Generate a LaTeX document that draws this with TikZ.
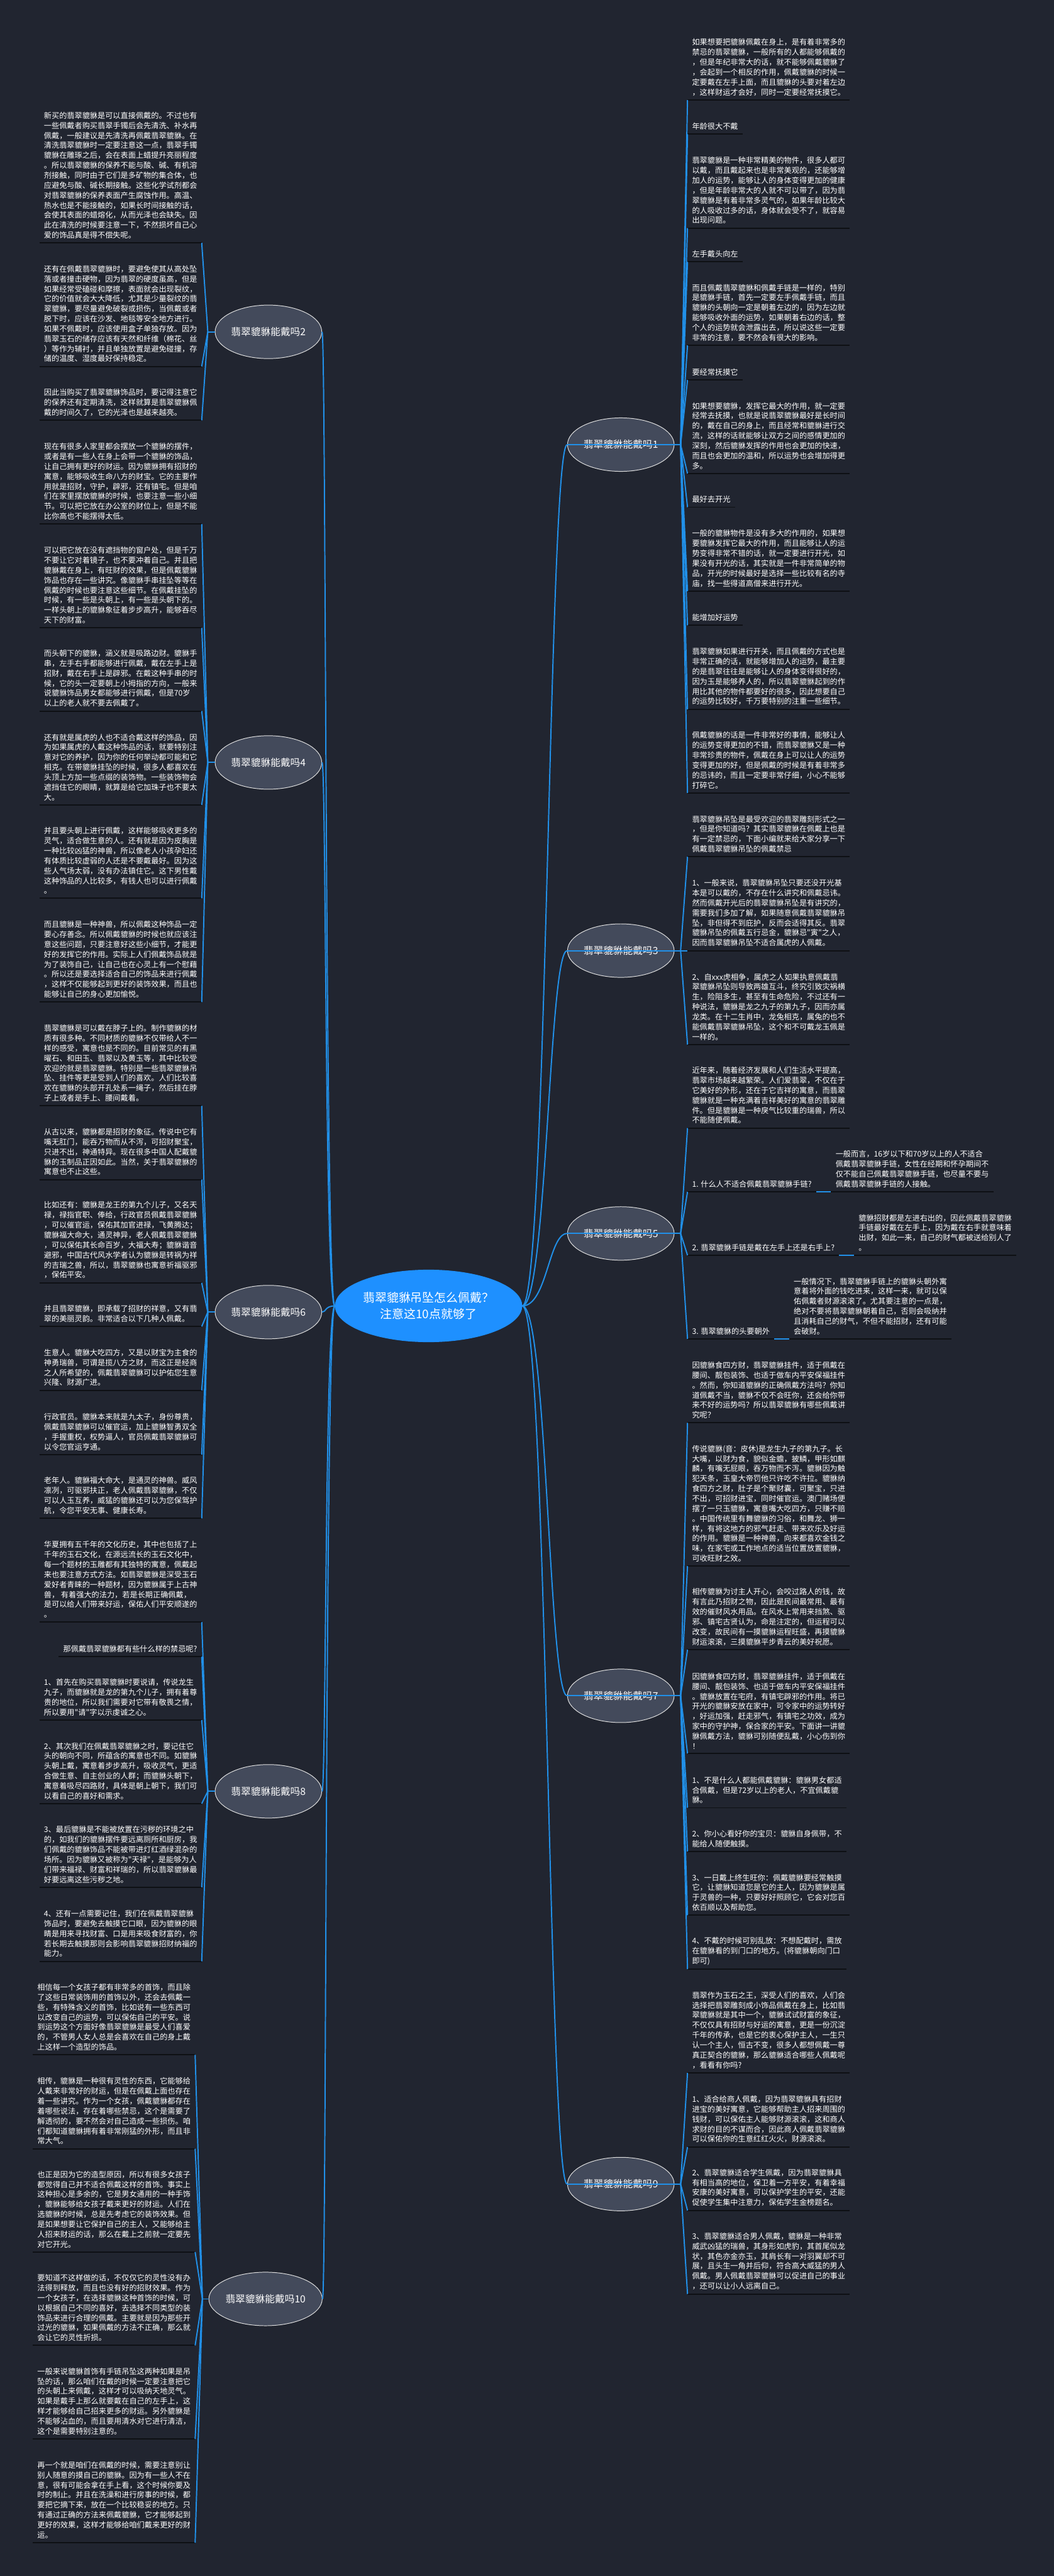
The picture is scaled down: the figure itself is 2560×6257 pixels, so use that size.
\documentclass[tikz,border=0pt]{standalone}
\usepackage{fontspec}
\usetikzlibrary{shapes.geometric,calc}
\newfontfamily\cjk{Noto Sans CJK SC}
\definecolor{bg}{RGB}{33,37,48}
\definecolor{linkblue}{RGB}{33,144,232}
\definecolor{nodegray}{RGB}{67,74,91}
\definecolor{centerblue}{RGB}{30,144,255}
\definecolor{ulc}{RGB}{14,16,20}
\newcommand\bodyfont{\cjk\fontsize{18.6pt}{24.2pt}\selectfont}
\begin{document}
\begin{tikzpicture}[x=1pt,y=-1pt,
 conn/.style={draw=linkblue,line width=3pt},
 uline/.style={draw=ulc,line width=3pt},
 txt/.style={align=left,font=\bodyfont,text=white,inner xsep=11pt,inner ysep=10pt,
   append after command={(\tikzlastnode.south west) edge[uline] (\tikzlastnode.south east)}},
 lbox/.style={txt,anchor=south east},
 rbox/.style={txt,anchor=south west},
 branch/.style={ellipse,fill=nodegray,draw=white!88!black,line width=1.5pt,minimum width=259pt,minimum height=130pt,inner sep=0pt,text=white,font=\cjk\fontsize{24pt}{28pt}\selectfont},
 hub/.style={ellipse,fill=centerblue,minimum width=455pt,minimum height=176pt,inner sep=0pt,align=center,text=white,font=\cjk\fontsize{29pt}{40pt}\selectfont}
]
\fill[bg] (0,0) rectangle (2560,6257);

% center
\node[hub] (c) at (1041,3172) {翡翠貔貅吊坠怎么佩戴？\\注意这10点就够了};

% branches
\node[branch] (n2) at (652,806) {翡翠貔貅能戴吗2};
\node[branch] (n4) at (652,1852) {翡翠貔貅能戴吗4};
\node[branch] (n6) at (652,3187) {翡翠貔貅能戴吗6};
\node[branch] (n8) at (652,4351) {翡翠貔貅能戴吗8};
\node[branch,minimum width=275pt] (n10) at (645,5584) {翡翠貔貅能戴吗10};
\node[branch] (n1) at (1508,1080) {翡翠貔貅能戴吗1};
\node[branch] (n3) at (1508,2309) {翡翠貔貅能戴吗3};
\node[branch] (n5) at (1508,2996) {翡翠貔貅能戴吗5};
\node[branch] (n7) at (1508,4119) {翡翠貔貅能戴吗7};
\node[branch] (n9) at (1508,5305) {翡翠貔貅能戴吗9};

% ---------- left: node 2
\node[lbox] (l2a) at (490,590) {新买的翡翠貔貅是可以直接佩戴的。不过也有\\一些佩戴者购买翡翠手镯后会先清洗、补水再\\佩戴，一般建议是先清洗再佩戴翡翠貔貅。在\\清洗翡翠貔貅时一定要注意这一点，翡翠手镯\\貔貅在雕琢之后，会在表面上蜡提升亮丽程度\\。所以翡翠貔貅的保养不能与酸、碱、有机溶\\剂接触，同时由于它们是多矿物的集合体，也\\应避免与酸、碱长期接触。这些化学试剂都会\\对翡翠貔貅的保养表面产生腐蚀作用。高温、\\热水也是不能接触的，如果长时间接触的话，\\会使其表面的蜡熔化，从而光泽也会缺失。因\\此在清洗的时候要注意一下，不然损坏自己心\\爱的饰品真是得不偿失呢。};
\node[lbox] (l2b) at (490,890) {还有在佩戴翡翠貔貅时，要避免使其从高处坠\\落或者撞击硬物，因为翡翠的硬度虽高，但是\\如果经常受磕碰和摩擦，表面就会出现裂纹，\\它的价值就会大大降低，尤其是少量裂纹的翡\\翠貔貅，要尽量避免破裂或损伤，当佩戴或者\\脱下时，应该在沙发、地毯等安全地方进行。\\如果不佩戴时，应该使用盒子单独存放。因为\\翡翠玉石的储存应该有天然和纤维（棉花、丝\\）等作为辅衬，并且单独放置是避免碰撞，存\\储的温度、湿度最好保持稳定。};
\node[lbox] (l2c) at (490,1021) {因此当购买了翡翠貔貅饰品时，要记得注意它\\的保养还有定期清洗，这样就算是翡翠貔貅佩\\戴的时间久了，它的光泽也是越来越亮。};

% ---------- left: node 4
\node[lbox] (l4a) at (490,1273) {现在有很多人家里都会摆放一个貔貅的摆件，\\或者是有一些人在身上会带一个貔貅的饰品，\\让自己拥有更好的财运。因为貔貅拥有招财的\\寓意，能够吸收生命八方的财宝。它的主要作\\用就是招财，守护，辟邪，还有镇宅。但是咱\\们在家里摆放貔貅的时候，也要注意一些小细\\节。可以把它放在办公室的财位上，但是不能\\比你高也不能摆得太低。};
\node[lbox] (l4b) at (490,1525) {可以把它放在没有遮挡物的窗户处，但是千万\\不要让它对着镜子，也不要冲着自己。并且把\\貔貅戴在身上，有旺财的效果，但是佩戴貔貅\\饰品也存在一些讲究。像貔貅手串挂坠等等在\\佩戴的时候也要注意这些细节。在佩戴挂坠的\\时候，有一些是头朝上，有一些是头朝下的。\\一样头朝上的貔貅象征着步步高升，能够吞尽\\天下的财富。};
\node[lbox] (l4c) at (490,1727) {而头朝下的貔貅，涵义就是吸路边财。貔貅手\\串，左手右手都能够进行佩戴，戴在左手上是\\招财，戴在右手上是辟邪。在戴这种手串的时\\候，它的头一定要朝上小拇指的方向，一般来\\说貔貅饰品男女都能够进行佩戴，但是70岁\\以上的老人就不要去佩戴了。};
\node[lbox] (l4d) at (490,1955) {还有就是属虎的人也不适合戴这样的饰品，因\\为如果属虎的人戴这种饰品的话，就要特别注\\意对它的养护，因为你的任何举动都可能和它\\相克。在带貔貅挂坠的时候，很多人都喜欢在\\头顶上方加一些点缀的装饰物。一些装饰物会\\遮挡住它的眼睛，就算是给它加珠子也不要太\\大。};
\node[lbox] (l4e) at (490,2182) {并且要头朝上进行佩戴，这样能够吸收更多的\\灵气，适合做生意的人。还有就是因为皮胸是\\一种比较凶猛的神兽，所以像老人小孩孕妇还\\有体质比较虚弱的人还是不要戴最好。因为这\\些人气场太弱，没有办法镇住它。这下男性戴\\这种饰品的人比较多，有钱人也可以进行佩戴\\。};
\node[lbox] (l4f) at (490,2434) {而且貔貅是一种神兽，所以佩戴这种饰品一定\\要心存善念。所以佩戴貔貅的时候也就应该注\\意这些问题，只要注意好这些小细节，才能更\\好的发挥它的作用。实际上人们佩戴饰品就是\\为了装饰自己，让自己也在心灵上有一个慰藉\\。所以还是要选择适合自己的饰品来进行佩戴\\，这样不仅能够起到更好的装饰效果，而且也\\能够让自己的身心更加愉悦。};

% ---------- left: node 6
\node[lbox] (l6a) at (490,2686) {翡翠貔貅是可以戴在脖子上的。制作貔貅的材\\质有很多种。不同材质的貔貅不仅带给人不一\\样的感受，寓意也是不同的。目前常见的有黑\\曜石、和田玉、翡翠以及黄玉等，其中比较受\\欢迎的就是翡翠貔貅。特别是一些翡翠貔貅吊\\坠、挂件等更是受到人们的喜欢。人们比较喜\\欢在貔貅的头部开孔处系一绳子，然后挂在脖\\子上或者是手上、腰间戴着。};
\node[lbox] (l6b) at (490,2865) {从古以来，貔貅都是招财的象征。传说中它有\\嘴无肛门，能吞万物而从不泻，可招财聚宝，\\只进不出，神通特异。现在很多中国人配戴貔\\貅的玉制品正因如此。当然，关于翡翠貔貅的\\寓意也不止这些。};
\node[lbox] (l6c) at (490,3116) {比如还有：貔貅是龙王的第九个儿子，又名天\\禄，禄指官职、俸给，行政官员佩戴翡翠貔貅\\，可以催官运，保佑其加官进禄，飞黄腾达；\\貔貅福大命大，通灵神异，老人佩戴翡翠貔貅\\，可以保佑其长命百岁，大福大寿；貔貅谐音\\避邪，中国古代风水学者认为貔貅是转祸为祥\\的吉瑞之兽，所以，翡翠貔貅也寓意祈福驱邪\\，保佑平安。};
\node[lbox] (l6d) at (490,3222) {并且翡翠貔貅，即承载了招财的祥意，又有翡\\翠的美丽灵韵。非常适合以下几种人佩戴。};
\node[lbox] (l6e) at (490,3377) {生意人。貔貅大吃四方，又是以财宝为主食的\\神勇瑞兽，可谓是揽八方之财，而这正是经商\\之人所希望的，佩戴翡翠貔貅可以护佑您生意\\兴隆、财源广进。};
\node[lbox] (l6f) at (490,3533) {行政官员。貔貅本来就是九太子，身份尊贵，\\佩戴翡翠貔貅可以催官运，加上貔貅智勇双全\\，手握重权，权势逼人，官员佩戴翡翠貔貅可\\以令您官运亨通。};
\node[lbox] (l6g) at (490,3688) {老年人。貔貅福大命大，是通灵的神兽。威风\\凛冽，可驱邪扶正，老人佩戴翡翠貔貅，不仅\\可以人玉互养，威猛的貔貅还可以为您保驾护\\航，令您平安无事、健康长寿。};

% ---------- left: node 8
\node[lbox] (l8a) at (490,3940) {华夏拥有五千年的文化历史，其中也包括了上\\千年的玉石文化，在源远流长的玉石文化中，\\每一个题材的玉雕都有其独特的寓意，佩戴起\\来也要注意方式方法。如翡翠貔貅是深受玉石\\爱好者青睐的一种题材，因为貔貅属于上古神\\兽， 有着强大的法力，若是长期正确佩戴，\\是可以给人们带来好运，保佑人们平安顺遂的\\。};
\node[lbox] (l8b) at (490,4024) {那佩戴翡翠貔貅都有些什么样的禁忌呢?};
\node[lbox] (l8c) at (490,4178) {1、首先在购买翡翠貔貅时要说请，传说龙生\\九子，而貔貅就是龙的第九个儿子，拥有着尊\\贵的地位，所以我们需要对它带有敬畏之情，\\所以要用"请"字以示虔诚之心。};
\node[lbox] (l8d) at (490,4381) {2、其次我们在佩戴翡翠貔貅之时，要记住它\\头的朝向不同，所蕴含的寓意也不同。如貔貅\\头朝上戴，寓意着步步高升，吸收灵气，更适\\合做生意、自主创业的人群；而貔貅头朝下，\\寓意着吸尽四路财，具体是朝上朝下，我们可\\以看自己的喜好和需求。};
\node[lbox] (l8e) at (490,4584) {3、最后貔貅是不能被放置在污秽的环境之中\\的，如我们的貔貅摆件要远离厕所和厨房，我\\们佩戴的貔貅饰品不能被带进灯红酒绿混杂的\\场所。因为貔貅又被称为"天禄"，是能够为人\\们带来福禄、财富和祥瑞的，所以翡翠貔貅最\\好要远离这些污秽之地。};
\node[lbox] (l8f) at (490,4764) {4、还有一点需要记住，我们在佩戴翡翠貔貅\\饰品时，要避免去触摸它口眼，因为貔貅的眼\\睛是用来寻找财富、口是用来吸食财富的，你\\若长期去触摸那则会影响翡翠貔貅招财纳福的\\能力。};

% ---------- left: node 10
\node[lbox] (l10a) at (474,4991) {相信每一个女孩子都有非常多的首饰，而且除\\了这些日常装饰用的首饰以外，还会去佩戴一\\些，有特殊含义的首饰，比如说有一些东西可\\以改变自己的运势，可以保佑自己的平安。说\\到运势这个方面好像翡翠貔貅是最受人们喜爱\\的，不管男人女人总是会喜欢在自己的身上戴\\上这样一个造型的饰品。};
\node[lbox] (l10b) at (474,5219) {相传，貔貅是一种很有灵性的东西，它能够给\\人戴来非常好的财运，但是在佩戴上面也存在\\着一些讲究。作为一个女孩，佩戴貔貅都存在\\着哪些说法，存在着哪些禁忌，这个是需要了\\解透彻的，要不然会对自己造成一些损伤。咱\\们都知道貔貅拥有着非常刚猛的外形，而且非\\常大气。};
\node[lbox] (l10c) at (474,5470) {也正是因为它的造型原因，所以有很多女孩子\\都觉得自己并不适合佩戴这样的首饰。事实上\\这种担心是多余的，它是男女通用的一种手饰\\，貔貅能够给女孩子戴来更好的财运。人们在\\选貔貅的时候，总是先考虑它的装饰效果。但\\是如果想要让它保护自己的主人，又能够给主\\人招来财运的话，那么在戴上之前就一定要先\\对它开光。};
\node[lbox] (l10d) at (474,5697) {要知道不这样做的话，不仅仅它的灵性没有办\\法得到释放，而且也没有好的招财效果。作为\\一个女孩子，在选择貔貅这种首饰的时候，可\\以根据自己不同的喜好，去选择不同类型的装\\饰品来进行合理的佩戴。主要就是因为那些开\\过光的貔貅，如果佩戴的方法不正确，那么就\\会让它的灵性折损。};
\node[lbox] (l10e) at (474,5924) {一般来说貔貅首饰有手链吊坠这两种如果是吊\\坠的话，那么咱们在戴的时候一定要注意把它\\的头朝上来佩戴，这样才可以吸纳天地灵气。\\如果是戴手上那么就要戴在自己的左手上，这\\样才能够给自己招来更多的财运。另外貔貅是\\不能够沾血的，而且要用清水对它进行清洁，\\这个是需要特别注意的。};
\node[lbox] (l10f) at (474,6176) {再一个就是咱们在佩戴的时候，需要注意别让\\别人随意的摸自己的貔貅。因为有一些人不在\\意，很有可能会拿在手上看，这个时候你要及\\时的制止。并且在洗澡和进行房事的时候，都\\要把它摘下来，放在一个比较稳妥的地方。只\\有通过正确的方法来佩戴貔貅，它才能够起到\\更好的效果，这样才能够给咱们戴来更好的财\\运。};

% ---------- right: node 1
\node[rbox] (r1a) at (1670,243) {如果想要把貔貅佩戴在身上，是有着非常多的\\禁忌的翡翠貔貅，一般所有的人都能够佩戴的\\，但是年纪非常大的话，就不能够佩戴貔貅了\\，会起到一个相反的作用，佩戴貔貅的时候一\\定要戴在左手上面，而且貔貅的头要对着左边\\，这样财运才会好，同时一定要经常抚摸它。};
\node[rbox] (r1b) at (1670,326) {年龄很大不戴};
\node[rbox] (r1c) at (1670,554) {翡翠貔貅是一种非常精美的物件，很多人都可\\以戴，而且戴起来也是非常美观的，还能够增\\加人的运势，能够让人的身体变得更加的健康\\，但是年龄非常大的人就不可以带了，因为翡\\翠貔貅是有着非常多灵气的，如果年龄比较大\\的人吸收过多的话，身体就会受不了，就容易\\出现问题。};
\node[rbox] (r1d) at (1670,636) {左手戴头向左};
\node[rbox] (r1e) at (1670,839) {而且佩戴翡翠貔貅和佩戴手链是一样的，特别\\是貔貅手链，首先一定要左手佩戴手链，而且\\貔貅的头朝向一定是朝着左边的，因为左边就\\能够吸收外面的运势，如果朝着右边的话，整\\个人的运势就会泄露出去，所以说这些一定要\\非常的注意，要不然会有很大的影响。};
\node[rbox] (r1f) at (1670,923) {要经常抚摸它};
\node[rbox] (r1g) at (1670,1150) {如果想要貔貅，发挥它最大的作用，就一定要\\经常去抚摸，也就是说翡翠貔貅最好是长时间\\的，戴在自己的身上，而且经常和貔貅进行交\\流，这样的话就能够让双方之间的感情更加的\\深刻，然后貔貅发挥的作用也会更加的快速，\\而且也会更加的温和，所以运势也会增加得更\\多。};
\node[rbox] (r1h) at (1670,1232) {最好去开光};
\node[rbox] (r1i) at (1670,1436) {一般的貔貅物件是没有多大的作用的，如果想\\要貔貅发挥它最大的作用，而且能够让人的运\\势变得非常不错的话，就一定要进行开光，如\\果没有开光的话，其实就是一件非常简单的物\\品，开光的时候最好是选择一些比较有名的寺\\庙，找一些得道高僧来进行开光。};
\node[rbox] (r1j) at (1670,1519) {能增加好运势};
\node[rbox] (r1k) at (1670,1723) {翡翠貔貅如果进行开关，而且佩戴的方式也是\\非常正确的话，就能够增加人的运势，最主要\\的是翡翠往往是能够让人的身体变得很好的，\\因为玉是能够养人的，所以翡翠貔貅起到的作\\用比其他的物件都要好的很多，因此想要自己\\的运势比较好，千万要特别的注重一些细节。};
\node[rbox] (r1l) at (1670,1926) {佩戴貔貅的话是一件非常好的事情，能够让人\\的运势变得更加的不错，而翡翠貔貅又是一种\\非常珍贵的物件，佩戴在身上可以让人的运势\\变得更加的好，但是佩戴的时候是有着非常多\\的忌讳的，而且一定要非常仔细，小心不能够\\打碎它。};

% ---------- right: node 3
\node[rbox] (r3a) at (1670,2081) {翡翠貔貅吊坠是最受欢迎的翡翠雕刻形式之一\\，但是你知道吗？其实翡翠貔貅在佩戴上也是\\有一定禁忌的，下面小编就来给大家分享一下\\佩戴翡翠貔貅吊坠的佩戴禁忌};
\node[rbox] (r3b) at (1670,2309) {1、一般来说，翡翠貔貅吊坠只要还没开光基\\本是可以戴的，不存在什么讲究和佩戴忌讳。\\然而佩戴开光后的翡翠貔貅吊坠是有讲究的，\\需要我们多加了解，如果随意佩戴翡翠貔貅吊\\坠，非但得不到庇护，反而会适得其反。翡翠\\貔貅吊坠的佩戴五行忌金，貔貅忌"寅"之人，\\因而翡翠貔貅吊坠不适合属虎的人佩戴。};
\node[rbox] (r3c) at (1670,2537) {2、自xxx虎相争，属虎之人如果执意佩戴翡\\翠貔貅吊坠则导致两雄互斗，终究引致灾祸横\\生，险阻多生，甚至有生命危险，不过还有一\\种说法，貔貅是龙之九子的第九子，因而亦属\\龙类。在十二生肖中，龙兔相克，属兔的也不\\能佩戴翡翠貔貅吊坠，这个和不可戴龙玉佩是\\一样的。};

% ---------- right: node 5
\node[rbox] (r5a) at (1670,2740) {近年来，随着经济发展和人们生活水平提高，\\翡翠市场越来越繁荣。人们爱翡翠，不仅在于\\它美好的外形，还在于它吉祥的寓意，而翡翠\\貔貅就是一种充满着吉祥美好的寓意的翡翠雕\\件。但是貔貅是一种戾气比较重的瑞兽，所以\\不能随便佩戴。};
\node[rbox] (q1) at (1670,2895) {1. 什么人不适合佩戴翡翠貔貅手链?};
\node[rbox] (a1) at ($(q1.south east)+(36,0)$) {一般而言，16岁以下和70岁以上的人不适合\\佩戴翡翠貔貅手链，女性在经期和怀孕期间不\\仅不能自己佩戴翡翠貔貅手链，也尽量不要与\\佩戴翡翠貔貅手链的人接触。};
\node[rbox] (q2) at (1670,3049) {2. 翡翠貔貅手链是戴在左手上还是右手上?};
\node[rbox] (a2) at ($(q2.south east)+(36,0)$) {貔貅招财都是左进右出的，因此佩戴翡翠貔貅\\手链最好戴在左手上，因为戴在右手就意味着\\出财，如此一来，自己的财气都被送给别人了\\。};
\node[rbox] (q3) at (1670,3252) {3. 翡翠貔貅的头要朝外};
\node[rbox] (a3) at ($(q3.south east)+(36,0)$) {一般情况下，翡翠貔貅手链上的貔貅头朝外寓\\意着将外面的钱吃进来，这样一来，就可以保\\佑佩戴者财源滚滚了。尤其要注意的一点是，\\绝对不要将翡翠貔貅朝着自己，否则会吸纳并\\且消耗自己的财气，不但不能招财，还有可能\\会破财。};

% ---------- right: node 7
\node[rbox] (r7a) at (1670,3456) {因貔貅食四方财，翡翠貔貅挂件，适于佩戴在\\腰间、靓包装饰、也适于做车内平安保福挂件\\。然而，你知道貔貅的正确佩戴方法吗？你知\\道佩戴不当，貔貅不仅不会旺你，还会给你带\\来不好的运势吗？所以翡翠貔貅有哪些佩戴讲\\究呢？};
\node[rbox] (r7b) at (1670,3804) {传说貔貅(音：皮休)是龙生九子的第九子。长\\大嘴，以财为食，貌似金蟾，披鳞，甲形如麒\\麟，有嘴无屁眼，吞万物而不泻。貔貅因为触\\犯天条，玉皇大帝罚他只许吃不许拉。貔貅纳\\食四方之财，肚子是个聚财囊，可聚宝，只进\\不出，可招财进宝，同时催官运。澳门赌场便\\摆了一只玉貔貅，寓意嘴大吃四方，只赚不赔\\。中国传统里有舞貔貅的习俗，和舞龙、狮一\\样，有将这地方的邪气赶走、带来欢乐及好运\\的作用。貔貅是一种神兽，向来都喜欢金钱之\\味，在家宅或工作地点的适当位置放置貔貅，\\可收旺财之效。};
\node[rbox] (r7c) at (1670,4007) {相传貔貅为讨主人开心，会咬过路人的钱，故\\有言此乃招财之物，因此是民间最常用、最有\\效的催财风水用品。在风水上常用来挡煞、驱\\邪、镇宅古贤认为，命是注定的，但运程可以\\改变，故民间有一摸貔貅运程旺盛，再摸貔貅\\财运滚滚，三摸貔貅平步青云的美好祝愿。};
\node[rbox] (r7d) at (1670,4259) {因貔貅食四方财，翡翠貔貅挂件，适于佩戴在\\腰间、靓包装饰、也适于做车内平安保福挂件\\。貔貅放置在宅府，有镇宅辟邪的作用。将已\\开光的貔貅安放在家中，可令家中的运势转好\\，好运加强，赶走邪气，有镇宅之功效，成为\\家中的守护神，保合家的平安。下面讲一讲貔\\貅佩戴方法，貔貅可别随便乱戴，小心伤到你\\！};
\node[rbox] (r7e) at (1670,4391) {1、不是什么人都能佩戴貔貅：貔貅男女都适\\合佩戴，但是72岁以上的老人，不宜佩戴貔\\貅。};
\node[rbox] (r7f) at (1670,4497) {2、你小心看好你的宝贝：貔貅自身佩带，不\\能给人随便触摸。};
\node[rbox] (r7g) at (1670,4652) {3、一日戴上终生旺你：佩戴貔貅要经常触摸\\它，让貔貅知道您是它的主人，因为貔貅是属\\于灵兽的一种，只要好好照顾它，它会对您百\\依百顺以及帮助您。};
\node[rbox] (r7h) at (1670,4783) {4、不戴的时候可别乱放：不想配戴时，需放\\在貔貅看的到门口的地方。(将貔貅朝向门口\\即可)};

% ---------- right: node 9
\node[rbox] (r9a) at (1670,5035) {翡翠作为玉石之王，深受人们的喜欢，人们会\\选择把翡翠雕刻成小饰品佩戴在身上，比如翡\\翠貔貅就是其中一个，貔貅试试财富的象征，\\不仅仅具有招财与好运的寓意，更是一份沉淀\\千年的传承，也是它的衷心保护主人，一生只\\认一个主人，恒古不变，很多人都想佩戴一尊\\真正契合的貔貅，那么貔貅适合哪些人佩戴呢\\，看看有你吗?};
\node[rbox] (r9b) at (1670,5215) {1、适合给商人佩戴，因为翡翠貔貅具有招财\\进宝的美好寓意，它能够帮助主人招来周围的\\钱财，可以保佑主人能够财源滚滚，这和商人\\求财的目的不谋而合，因此商人佩戴翡翠貔貅\\可以保佑你的生意红红火火，财源滚滚。};
\node[rbox] (r9c) at (1670,5369) {2、翡翠貔貅适合学生佩戴，因为翡翠貔貅具\\有相当高的地位，保卫着一方平安，有着幸福\\安康的美好寓意，可以保护学生的平安，还能\\促使学生集中注意力，保佑学生金榜题名。};
\node[rbox] (r9d) at (1670,5572) {3、翡翠貔貅适合男人佩戴，貔貅是一种非常\\威武凶猛的瑞兽，其身形如虎豹，其首尾似龙\\状，其色亦金亦玉，其肩长有一对羽翼却不可\\展，且头生一角并后仰，符合高大威猛的男人\\佩戴。男人佩戴翡翠貔貅可以促进自己的事业\\，还可以让小人远离自己。};

% ---------- junctions
\foreach \n in {2,4,6,8} {\coordinate (j\n) at ($(n\n.west)+(-17,0)$);}
\coordinate (j10) at ($(n10.west)+(-15,0)$);
\foreach \n in {1,3,5,7,9} {\coordinate (j\n) at ($(n\n.east)+(15,0)$);}
\foreach \n in {1,...,10} {\draw[conn] (n\n.west) -- (j\n);}

% ---------- center to branches
\foreach \n in {2,4,6,8,10} {\draw[conn] (c.west) .. controls ($(c.west)+(-24,0)$) and ($(n\n.east)+(10,0)$) .. (n\n.east);}
\foreach \n in {1,3,5,7,9} {\draw[conn] (c.east) .. controls ($(c.east)+(60,0)$) and ($(n\n.west)+(-45,0)$) .. (n\n.west);}

% ---------- branch to boxes
\foreach \b in {l2a,l2b,l2c} {\draw[conn] (j2) -- (\b.south east);}
\foreach \b in {l4a,l4b,l4c,l4d,l4e,l4f} {\draw[conn] (j4) -- (\b.south east);}
\foreach \b in {l6a,l6b,l6c,l6d,l6e,l6f,l6g} {\draw[conn] (j6) -- (\b.south east);}
\foreach \b in {l8a,l8b,l8c,l8d,l8e,l8f} {\draw[conn] (j8) -- (\b.south east);}
\foreach \b in {l10a,l10b,l10c,l10d,l10e,l10f} {\draw[conn] (j10) -- (\b.south east);}
\foreach \b in {r1a,r1b,r1c,r1d,r1e,r1f,r1g,r1h,r1i,r1j,r1k,r1l} {\draw[conn] (j1) -- (\b.south west);}
\foreach \b in {r3a,r3b,r3c} {\draw[conn] (j3) -- (\b.south west);}
\foreach \b in {r5a,q1,q2,q3} {\draw[conn] (j5) -- (\b.south west);}
\foreach \b in {r7a,r7b,r7c,r7d,r7e,r7f,r7g,r7h} {\draw[conn] (j7) -- (\b.south west);}
\foreach \b in {r9a,r9b,r9c,r9d} {\draw[conn] (j9) -- (\b.south west);}
\draw[conn] (q1.south east) -- (a1.south west);
\draw[conn] (q2.south east) -- (a2.south west);
\draw[conn] (q3.south east) -- (a3.south west);
\end{tikzpicture}
\end{document}
